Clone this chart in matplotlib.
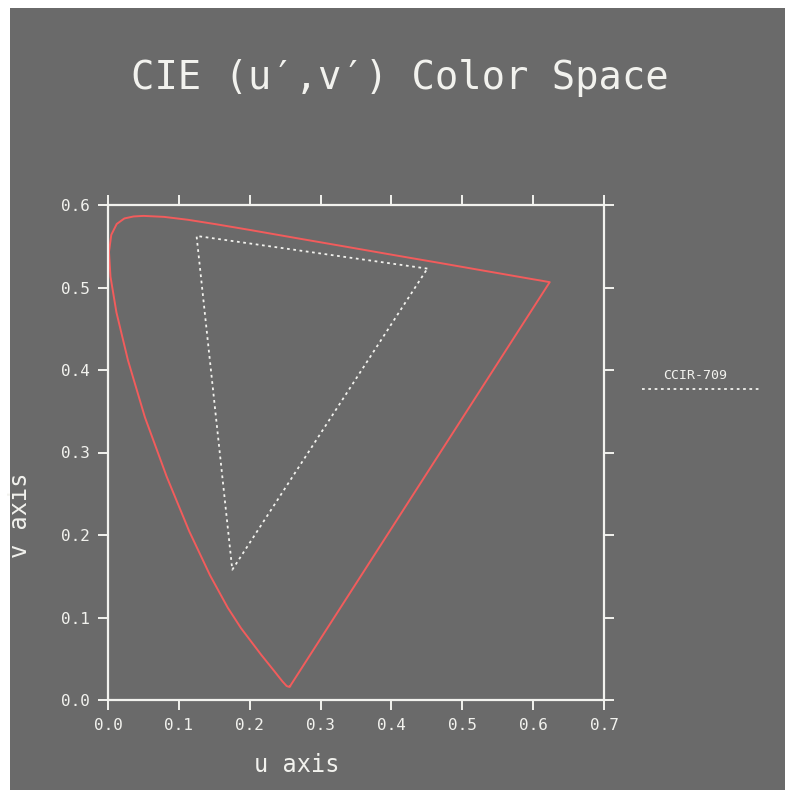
import numpy as np
import matplotlib
matplotlib.use("Agg")
import matplotlib.pyplot as plt
from matplotlib.patches import Rectangle
from matplotlib.lines import Line2D

# spectral locus (u', v'), 380 nm -> 700 nm
locus_u = [0.2568, 0.2557, 0.2522, 0.2461, 0.2347, 0.2161, 0.1877, 0.1690,
           0.1441, 0.1147, 0.0828, 0.0521, 0.0282, 0.0119, 0.0035, 0.0014,
           0.0046, 0.0123, 0.0231, 0.0360, 0.0501, 0.0792, 0.1127, 0.1531,
           0.2026, 0.2623, 0.3315, 0.4035, 0.4692, 0.5203, 0.5565, 0.5830,
           0.6005, 0.6109, 0.6199, 0.6234]
locus_v = [0.0166, 0.0159, 0.0169, 0.0226, 0.0350, 0.0549, 0.0871, 0.1119,
           0.1510, 0.2044, 0.2708, 0.3427, 0.4117, 0.4698, 0.5131, 0.5432,
           0.5638, 0.5770, 0.5837, 0.5861, 0.5868, 0.5856, 0.5821, 0.5766,
           0.5694, 0.5604, 0.5501, 0.5393, 0.5296, 0.5219, 0.5165, 0.5125,
           0.5099, 0.5084, 0.5070, 0.5065]

# CCIR-709 primaries R, G, B
ccir_u = [0.4507, 0.1250, 0.1754]
ccir_v = [0.5229, 0.5625, 0.1579]
ccir_name = "CCIR-709"

xticks = [0.0, 0.1, 0.2, 0.3, 0.4, 0.5, 0.6, 0.7]
yticks = [0.0, 0.1, 0.2, 0.3, 0.4, 0.5, 0.6]

bg = "#6a6a6a"
fg = "#f2f2ee"
red = "#f25c5c"
mono = "DejaVu Sans Mono"

fig = plt.figure(figsize=(7.92, 7.94), dpi=100, facecolor="white")
fig.add_artist(Rectangle((10/792, 4/794), 775/792, 782/794,
                         transform=fig.transFigure, facecolor=bg,
                         edgecolor="none", zorder=0))

ax = fig.add_axes([108/792, 1-700/794, 496/792, 495/794])
ax.set_facecolor("none")

# closed locus incl. purple line
ax.plot(locus_u + locus_u[:1], locus_v + locus_v[:1], color=red, lw=1.4,
        zorder=2)
ax.plot(ccir_u + ccir_u[:1], ccir_v + ccir_v[:1], color=fg, lw=1.3,
        linestyle=(0, (1.5, 2)), zorder=2)

ax.set_xlim(0, 0.7)
ax.set_ylim(0, 0.6)
ax.set_xticks(xticks, labels=["%.1f" % t for t in xticks])
ax.set_yticks(yticks, labels=["%.1f" % t for t in yticks])
for s in ax.spines.values():
    s.set_color(fg)
    s.set_linewidth(1.6)
ax.tick_params(axis="both", which="both", direction="out", length=7,
               width=1.4, color=fg, labelcolor=fg, labelsize=11.5,
               top=True, right=True, labeltop=False, labelright=False)
ax.tick_params(axis="x", pad=6)
ax.tick_params(axis="y", pad=6)
for lab in ax.get_xticklabels() + ax.get_yticklabels():
    lab.set_family(mono)

fig.text(400/792, 1-78/794, "CIE (u\u2032,v\u2032) Color Space", color=fg,
         family=mono, fontsize=28, ha="center", va="center")
fig.text(297/792, 1-765/794, "u axis", color=fg, family=mono, fontsize=17,
         ha="center", va="center")
fig.text(20/792, 1-515/794, "v axis", color=fg, family=mono, fontsize=17,
         ha="center", va="center", rotation=90)

# legend entry
fig.text(695/792, 1-376/794, ccir_name, color=fg, family=mono, fontsize=9.5,
         ha="center", va="center")
fig.add_artist(Line2D([642/792, 762/792], [1-389/794, 1-389/794],
                      transform=fig.transFigure, color=fg, lw=1.3,
                      linestyle=(0, (1.5, 2))))

fig.savefig("out.png", dpi=100, facecolor="white")
